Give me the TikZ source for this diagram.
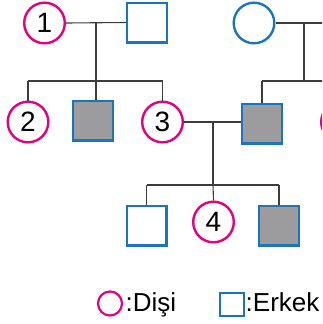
\documentclass[tikz,border=0pt]{standalone}
\usepackage{fontspec}
\setmainfont{Liberation Sans}
\definecolor{fem}{RGB}{228,0,127}
\definecolor{mal}{RGB}{27,117,187}
\definecolor{aff}{RGB}{156,156,159}
\definecolor{ln}{RGB}{60,60,60}
\begin{document}
\begin{tikzpicture}[x=1pt,y=-1pt,
  female/.style={circle,draw=fem,line width=2.4pt,minimum size=40.6pt,inner sep=0pt,font=\fontsize{28}{28}\selectfont},
  blufem/.style={female,draw=mal},
  male/.style={rectangle,draw=mal,line width=2.4pt,minimum size=39.6pt,inner sep=0pt},
  affected/.style={male,fill=aff},
  conn/.style={draw=ln,line width=1.1pt},
  legtext/.style={anchor=base west,inner sep=0pt,font=\fontsize{26}{26}\selectfont}]
\useasboundingbox (0,0) rectangle (322,324);
\clip (0,0) rectangle (322,324);
% generation I
\node[female] (c1) at (44.5,23) {1};
\node[male] (s1) at (147,22.5) {};
\node[blufem] (c2) at (254,23) {};
% generation II
\node[female] (d2) at (28,122) {2};
\node[affected] (a1) at (93,120.5) {};
\node[female] (d3) at (162.5,122) {3};
\node[affected] (a2) at (262,123.5) {};
\node[female] (dr) at (341.5,122) {};
% generation III
\node[male] (s3) at (146.5,225.5) {};
\node[female] (d4) at (213.5,222) {4};
\node[affected] (a3) at (279,225.5) {};
% connectors, family 1
\coordinate (m1) at (96,23);
\coordinate (b1) at (96,81);
\draw[conn] (c1.east) -- (s1.west);
\draw[conn] (m1) -- (b1);
\draw[conn] (d2.north |- b1) -- (d3.north |- b1);
\draw[conn] (d2.north |- b1) -- (d2.north);
\draw[conn] (b1) -- (b1 |- a1.north);
\draw[conn] (d3.north |- b1) -- (d3.north);
% family 2
\coordinate (e2) at (330,23);
\coordinate (m2) at (304,23);
\coordinate (b2) at (304,81);
\coordinate (f2) at (330,81);
\draw[conn] (c2.east) -- (e2);
\draw[conn] (m2) -- (b2);
\draw[conn] (a2.north |- b2) -- (f2);
\draw[conn] (a2.north |- b2) -- (a2.north);
% family 3
\coordinate (m3) at (213,122);
\coordinate (b3) at (213,185);
\draw[conn] (d3.east) -- (a2.west |- d3.east);
\draw[conn] (m3) -- (b3);
\draw[conn] (s3.north |- b3) -- (a3.north |- b3);
\draw[conn] (s3.north |- b3) -- (s3.north);
\draw[conn] (b3) -- (d4.north);
\draw[conn] (a3.north |- b3) -- (a3.north);
% legend
\node[circle,draw=fem,line width=2.2pt,minimum size=24pt,inner sep=0pt] (lc) at (110,303.5) {};
\node[legtext] (lt1) at (125.5,311.5) {:Dişi};
\node[rectangle,draw=mal,line width=2.2pt,minimum size=23.5pt,inner sep=0pt] (ls) at (232,304.5) {};
\node[legtext] (lt2) at (245.5,311.5) {:Erkek};
\end{tikzpicture}
\end{document}
